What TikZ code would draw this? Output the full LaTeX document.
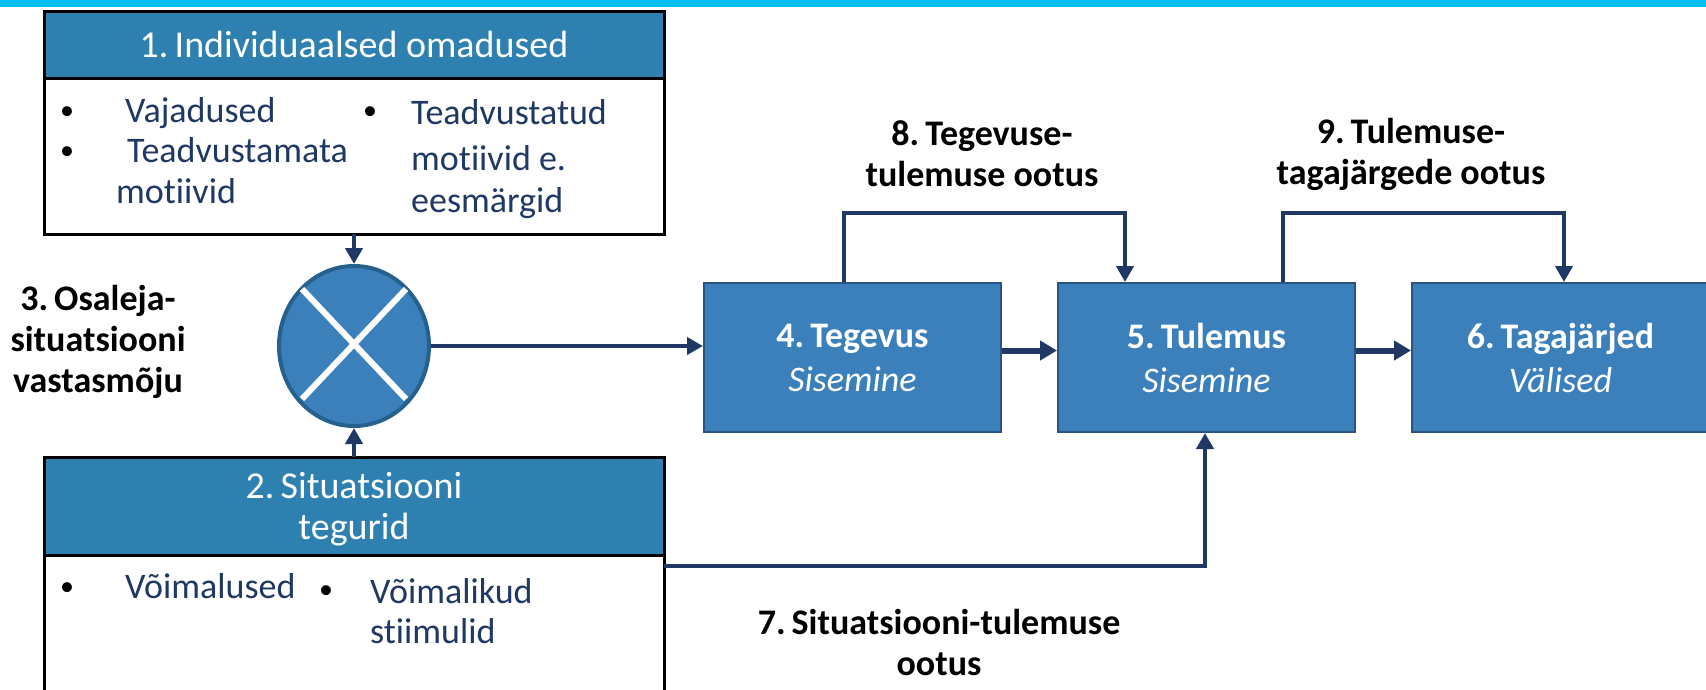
\documentclass[tikz,border=0pt]{standalone}
\usepackage{fontspec}
\setmainfont{Carlito}[Ligatures={NoCommon,NoContextual}]
\usetikzlibrary{arrows.meta,shapes.geometric}

\definecolor{topbar}{RGB}{0,190,242}
\definecolor{headblue}{RGB}{46,128,176}
\definecolor{boxblue}{RGB}{59,128,187}
\definecolor{boxedge}{RGB}{42,82,130}
\definecolor{ringedge}{RGB}{38,96,140}
\definecolor{navy}{RGB}{31,56,100}

\tikzset{
  body/.style={font=\fontsize{36}{41}\selectfont},
  headfont/.style={font=\fontsize{38}{41}\selectfont},
  panel/.style={draw=black, line width=3pt, fill=white, inner sep=0pt, outer sep=0pt,
    anchor=north west, minimum width=620pt},
  panelhead/.style={panel, fill=headblue, text=white, align=center, headfont},
  stagebox/.style={draw=boxedge, line width=2pt, fill=boxblue, minimum width=297pt,
    minimum height=149pt, text=white, align=center, inner sep=0pt,
    font=\fontsize{36}{44}\selectfont},
  arr/.style={draw=navy, line width=4pt, -{Triangle[width=17pt,length=16pt]}},
  fatarr/.style={draw=navy, line width=6pt, -{Triangle[width=19pt,length=17pt]}},
  item/.style={anchor=base west, inner sep=0pt, text=navy, body},
  dot/.style={anchor=base west, inner sep=0pt, text=black, font=\fontsize{28}{32}\selectfont},
  tag/.style={align=center, inner sep=0pt, text=black, font=\bfseries\fontsize{36}{41}\selectfont},
}

\begin{document}
\begin{tikzpicture}[x=1pt, y=-1pt]
  \path[use as bounding box] (0,0) rectangle (1706,689);
  \clip (0,0) rectangle (1706,689);

  % strip along the top edge
  \fill[topbar] (0,0) rectangle (1706,7);

  % panel 1: individual traits
  \node[panel, minimum height=223pt] (b1) at (44,11) {};
  \node[panelhead, minimum height=67pt] (b1h) at (44,11) {1.\,Individuaalsed omadused};
  \node[dot] (d1) at (60,119) {•};
  \node[item] (t1) at (125,122) {Vajadused};
  \node[dot] (d2) at (60,159) {•};
  \node[item] (t2) at (127,162) {Teadvustamata};
  \node[item] (t3) at (116,203) {motiivid};
  \node[dot] (d3) at (363,119) {•};
  \node[item] (t4) at (411,124) {Teadvustatud};
  \node[item] (t5) at (411,170) {motiivid e.};
  \node[item] (t6) at (411,212) {eesmärgid};

  % panel 2: situational factors
  \node[panel, minimum height=260pt] (b2) at (44,457) {};
  \node[panelhead, minimum height=98pt] (b2h) at (44,457) {};
  \node[text=white, align=center, headfont] (b2t) at (b2h.center) [yshift=-3pt] {2.\,Situatsiooni\\tegurid};
  \node[dot] (d4) at (60,595) {•};
  \node[item] (t7) at (125,598) {Võimalused};
  \node[dot] (d5) at (319,598) {•};
  \node[item] (t8) at (370,603) {Võimalikud};
  \node[item] (t9) at (370,643) {stiimulid};

  % interaction node
  \node[ellipse, draw=ringedge, line width=4pt, fill=boxblue, minimum width=150pt,
        minimum height=160pt, inner sep=0pt] (mix) at (354,346) {};
  \draw[white, line width=6pt] ([shift={(-52,-57)}]mix.center) -- ([shift={(52,53)}]mix.center);
  \draw[white, line width=6pt] ([shift={(52,-57)}]mix.center) -- ([shift={(-52,53)}]mix.center);

  \node[tag] (l3) at (98,342) {\fontsize{36}{46}\selectfont 3.\,Osaleja-\\situatsiooni\\vastasmõju};

  % stages
  \node[stagebox] (b4) at (852.5,357.5) {{\bfseries 4.\,Tegevus}\\{\itshape Sisemine}};
  \node[stagebox] (b5) at (1206.5,357.5) {{\bfseries 5.\,Tulemus}\\{\itshape Sisemine}};
  \node[stagebox] (b6) at (1560.5,357.5) {{\bfseries 6.\,Tagajärjed}\\{\itshape Välised}};

  % expectation labels
  \node[tag] (l8) at (982,154) {8.\,Tegevuse-\\tulemuse ootus};
  \node[tag] (l9) at (1411,154) {9.\,Tulemuse-\\tagajärgede ootus};
  \node[tag] (l7) at (939,642) {\fontsize{36}{38}\selectfont 7.\,Situatsiooni-tulemuse\\ootus};

  % bend points
  \coordinate (k8a) at (844,213);
  \coordinate (k8b) at (1125,213);
  \coordinate (k9a) at (1283,213);
  \coordinate (k9b) at (1564,213);
  \coordinate (k7) at (1205,566);

  % connectors
  \draw[arr] (b1.south) -- (mix.north);
  \draw[arr] (b2.north) -- (mix.south);
  \draw[arr] (mix.east) -- (mix.east -| b4.west);
  \draw[fatarr] ([yshift=7pt]b4.east) -- ([yshift=7pt]b5.west);
  \draw[fatarr] ([yshift=7pt]b5.east) -- ([yshift=7pt]b6.west);
  \draw[arr] (k8a |- b4.north) -- (k8a) -- (k8b) -- (k8b |- b5.north);
  \draw[arr] (k9a |- b5.north) -- (k9a) -- (k9b) -- (k9b |- b6.north);
  \draw[arr] (k7 -| b2.east) -- (k7) -- (k7 |- b5.south);
\end{tikzpicture}
\end{document}
